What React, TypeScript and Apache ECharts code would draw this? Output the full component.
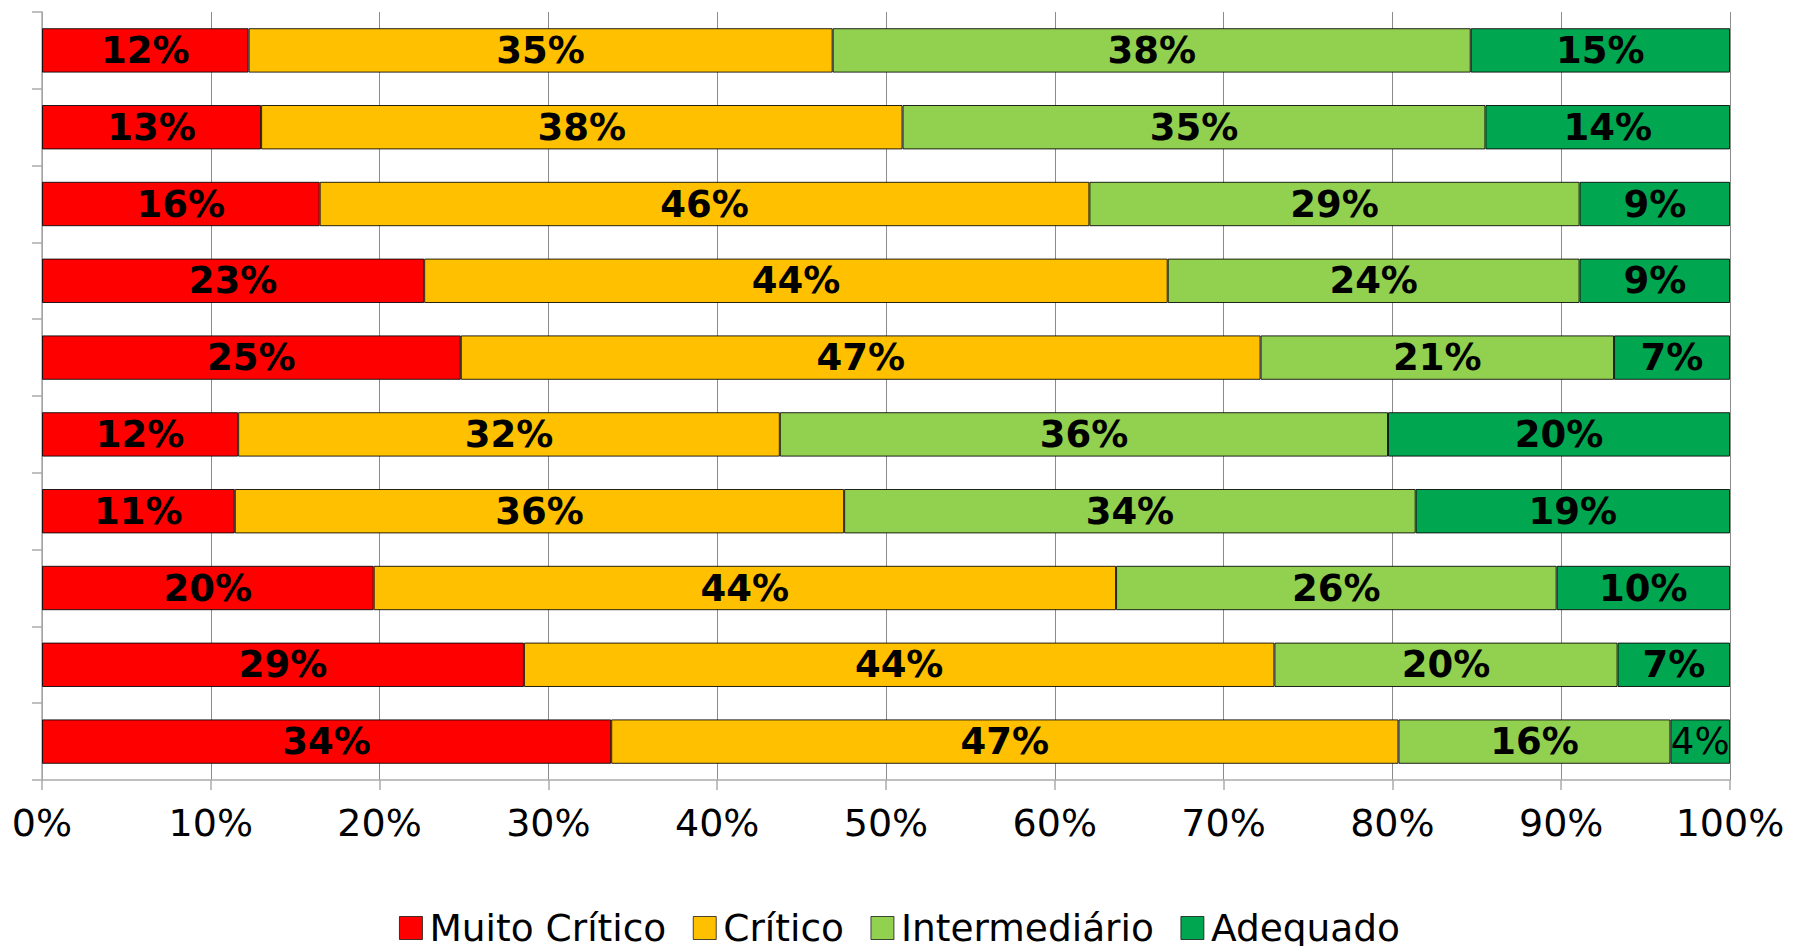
import React, { useEffect, useRef } from "react";
import * as echarts from "echarts";

const categories = ["1", "2", "3", "4", "5", "6", "7", "8", "9", "10"];
const seriesNames = ["Muito Crítico", "Crítico", "Intermediário", "Adequado"];
const muitoCritico = [12.24, 12.98, 16.45, 22.64, 24.81, 11.62, 11.42, 19.65, 28.55, 33.72];
const critico = [34.6, 38.0, 45.6, 44.05, 47.38, 32.09, 36.1, 43.98, 44.46, 46.64];
const intermediario = [37.8, 34.53, 29.04, 24.4, 20.94, 36.03, 33.86, 26.1, 20.33, 16.11];
const adequado = [15.36, 14.49, 8.91, 8.91, 6.87, 20.26, 18.62, 10.27, 6.66, 3.53];
const xTicks = [0, 10, 20, 30, 40, 50, 60, 70, 80, 90, 100];
const colors = ["#FF0000", "#FFC000", "#92D050", "#00A650"];
// label cells drawn in regular weight: [seriesIndex, categoryIndex]
const regularLabelCells = [[3, 9]];

const FONT = "DejaVu Sans";

export default function App() {
  const ref = useRef<HTMLDivElement>(null);
  useEffect(() => {
    if (!ref.current) return;
    const chart = echarts.init(ref.current, null, { renderer: "svg" });
    const allData = [muitoCritico, critico, intermediario, adequado];
    const series = allData.map((vals, si) => ({
      name: seriesNames[si],
      type: "bar",
      stack: "total",
      barWidth: "57.8%",
      itemStyle: { color: colors[si], borderColor: "rgba(0,0,0,0.85)", borderWidth: 1 },
      label: {
        show: true,
        position: "inside",
        color: "#000",
        fontFamily: FONT,
        fontWeight: "bold",
        fontSize: 37,
        formatter: (p: any) => Math.round(p.value) + "%",
      },
      data: vals.map((v, ci) => {
        const regular = regularLabelCells.some(([s, c]) => s === si && c === ci);
        return regular ? { value: v, label: { fontWeight: "normal" } } : v;
      }),
    }));
    chart.setOption({
      animation: false,
      textStyle: { fontFamily: FONT },
      grid: { left: 42, right: 69, top: 12, bottom: 166, containLabel: false },
      legend: {
        data: seriesNames,
        left: "center",
        top: 904,
        icon: "rect",
        itemWidth: 23,
        itemHeight: 23,
        itemGap: 26.5,
        itemStyle: { borderColor: "rgba(0,0,0,0.7)", borderWidth: 1 },
        textStyle: {
          fontFamily: FONT,
          fontSize: 37.5,
          lineHeight: 38,
          color: "#000",
          padding: [0, 0, 0, 2],
        },
      },
      xAxis: {
        type: "value",
        min: xTicks[0],
        max: xTicks[xTicks.length - 1],
        interval: xTicks[1] - xTicks[0],
        axisLine: { show: true, lineStyle: { color: "#ABABAB", width: 1.5 } },
        axisTick: { show: true, length: 10, lineStyle: { color: "#ABABAB", width: 1.5 } },
        axisLabel: {
          fontFamily: FONT,
          fontSize: 38,
          color: "#000",
          margin: 24,
          formatter: "{value}%",
        },
        splitLine: { show: true, lineStyle: { color: "#8C8C8C", width: 1 } },
      },
      yAxis: {
        type: "category",
        data: categories,
        inverse: true,
        axisLine: { show: true, lineStyle: { color: "#ABABAB", width: 1.5 } },
        axisTick: { show: true, length: 10, lineStyle: { color: "#ABABAB", width: 1.5 } },
        axisLabel: { show: false },
        splitLine: { show: false },
      },
      series,
    });
    return () => chart.dispose();
  }, []);
  return (
    <div
      ref={ref}
      style={{ position: "fixed", left: 0, top: 0, width: 1799, height: 946, background: "#fff" }}
    />
  );
}
